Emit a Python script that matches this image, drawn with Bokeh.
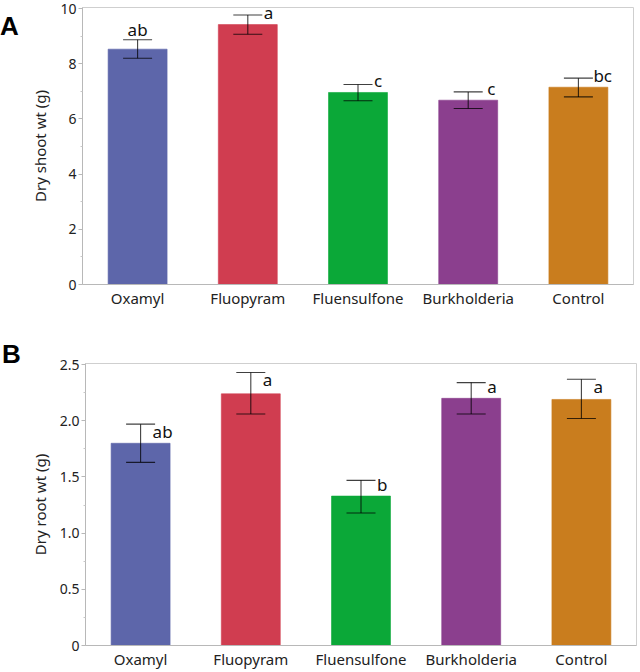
from bokeh.plotting import figure
from bokeh.layouts import column, row
from bokeh.models import (ColumnDataSource, Whisker, TeeHead, Range1d, Div,
                          FactorRange, FixedTicker)
from bokeh.core.properties import value
from bokeh.embed import file_html
from bokeh.resources import INLINE

# ---------------- data ----------------
treatments = ["Oxamyl", "Fluopyram", "Fluensulfone", "Burkholderia", "Control"]
bar_colors = ["#5d66aa", "#d03d50", "#0ba838", "#8b3f8e", "#c97d1e"]

shoot_mean = [8.53, 9.42, 6.96, 6.68, 7.15]
shoot_upper = [8.87, 9.77, 7.25, 6.98, 7.48]
shoot_lower = [8.20, 9.07, 6.66, 6.38, 6.80]
shoot_letters = ["ab", "a", "c", "c", "bc"]
shoot_ticks = [0, 2, 4, 6, 8, 10]
shoot_minor = [1, 3, 5, 7, 9]
shoot_tick_labels = ["0", "2", "4", "6", "8", "10"]

root_mean = [1.80, 2.24, 1.33, 2.20, 2.19]
root_upper = [1.97, 2.43, 1.47, 2.34, 2.37]
root_lower = [1.63, 2.06, 1.18, 2.06, 2.02]
root_letters = ["ab", "a", "b", "a", "a"]
root_ticks = [0, 0.5, 1.0, 1.5, 2.0, 2.5]
root_minor = [0.25, 0.75, 1.25, 1.75, 2.25]
root_tick_labels = ["0", "0.5", "1.0", "1.5", "2.0", "2.5"]

# ---------------- styling / placement (not data) ----------------
FONT = "Noto Sans"
LEFT_W = 22
W = 640 - LEFT_W
A_H, B_H = 318, 354
a_letter_style = dict(xo=[0, 16, 16, 19, 15], yo=[-10, -2.5, -4, -3, -3])
b_letter_style = dict(xo=[12, 12, 16, 16, 12], yo=[7, 7, 4, 4, 7])


def make_panel(mean, upper, lower, letters, ticks, minor, tick_labels, ymax,
               ylabel, height, borders, lstyle, first_center):
    src = ColumnDataSource(dict(x=treatments, top=mean, upper=upper,
                                lower=lower, color=bar_colors))
    p = figure(x_range=FactorRange(*treatments), y_range=Range1d(0, ymax),
               width=W, height=height, output_backend="svg",
               toolbar_location=None, tools="")
    p.min_border_left, p.min_border_right, p.min_border_top, p.min_border_bottom = borders
    p.x_range.range_padding = 0
    p.background_fill_color = "white"
    p.border_fill_color = "white"
    p.outline_line_color = "#cfcfcf"
    p.outline_line_width = 1
    p.grid.visible = False

    p.vbar(x="x", top="top", width=0.535, source=src, fill_color="color",
           line_color="color", line_alpha=0.6)

    wh = Whisker(source=src, base="x", upper="upper", lower="lower",
                 dimension="height", line_color="black", line_alpha=0.75,
                 line_width=1.1, level="overlay")
    wh.upper_head = TeeHead(size=29, line_color="black", line_alpha=0.75, line_width=1.1)
    wh.lower_head = TeeHead(size=29, line_color="black", line_alpha=0.75, line_width=1.1)
    p.add_layout(wh)

    for i in range(len(treatments)):
        center_first = first_center and i == 0
        p.text(x=[treatments[i]], y=[upper[i]], text=[letters[i]],
               x_offset=lstyle["xo"][i], y_offset=lstyle["yo"][i],
               text_align="center" if center_first else "left",
               text_baseline="middle",
               text_font=value(FONT), text_font_size="17px",
               text_color="#111111")

    # axes
    p.yaxis.ticker = FixedTicker(ticks=ticks, minor_ticks=minor)
    p.yaxis.major_label_overrides = {t: s for t, s in zip(ticks, tick_labels)}
    p.yaxis.axis_label = ylabel
    p.yaxis.axis_label_text_font = FONT
    p.yaxis.axis_label_text_font_style = "normal"
    p.yaxis.axis_label_text_font_size = "15px"
    p.yaxis.axis_label_text_color = "#222222"
    p.yaxis.axis_label_standoff = 7
    p.yaxis.major_label_text_font = FONT
    p.yaxis.major_label_text_font_size = "14px"
    p.yaxis.major_label_text_color = "#222222"
    p.yaxis.major_label_standoff = 2
    p.yaxis.major_tick_out = 4
    p.yaxis.major_tick_in = 0
    p.yaxis.minor_tick_out = 2
    p.yaxis.minor_tick_in = 0
    p.yaxis.axis_line_color = "#b8b8b8"
    p.yaxis.major_tick_line_color = "#b8b8b8"
    p.yaxis.minor_tick_line_color = "#c8c8c8"

    p.xaxis.major_label_text_font = FONT
    p.xaxis.major_label_text_font_size = "15px"
    p.xaxis.major_label_text_color = "#222222"
    p.xaxis.major_label_standoff = 3
    p.xaxis.major_tick_out = 0
    p.xaxis.major_tick_in = 0
    p.xaxis.axis_line_color = "#b8b8b8"
    return p


def panel_letter(letter, height, pad_top, pad_left):
    return Div(text=letter, width=LEFT_W, height=height, margin=0,
               styles={"font-family": "Liberation Sans", "font-weight": "bold",
                       "font-size": "26px", "line-height": "26px",
                       "color": "black", "padding-top": f"{pad_top}px",
                       "padding-left": f"{pad_left}px",
                       "box-sizing": "border-box", "overflow": "visible"})


pA = make_panel(shoot_mean, shoot_upper, shoot_lower, shoot_letters,
                shoot_ticks, shoot_minor, shoot_tick_labels, 10.04,
                "Dry shoot wt (g)", A_H, (82 - LEFT_W, 7, 7, 34),
                a_letter_style, True)
pB = make_panel(root_mean, root_upper, root_lower, root_letters,
                root_ticks, root_minor, root_tick_labels, 2.51,
                "Dry root wt (g)", B_H, (85 - LEFT_W, 4, 45, 27),
                b_letter_style, False)

layout = column(row(panel_letter("A", A_H, 13, 0), pA, spacing=0),
                row(panel_letter("B", B_H, 23, 2), pB, spacing=0),
                spacing=0)

open("out.html", "w").write(file_html(layout, INLINE))
